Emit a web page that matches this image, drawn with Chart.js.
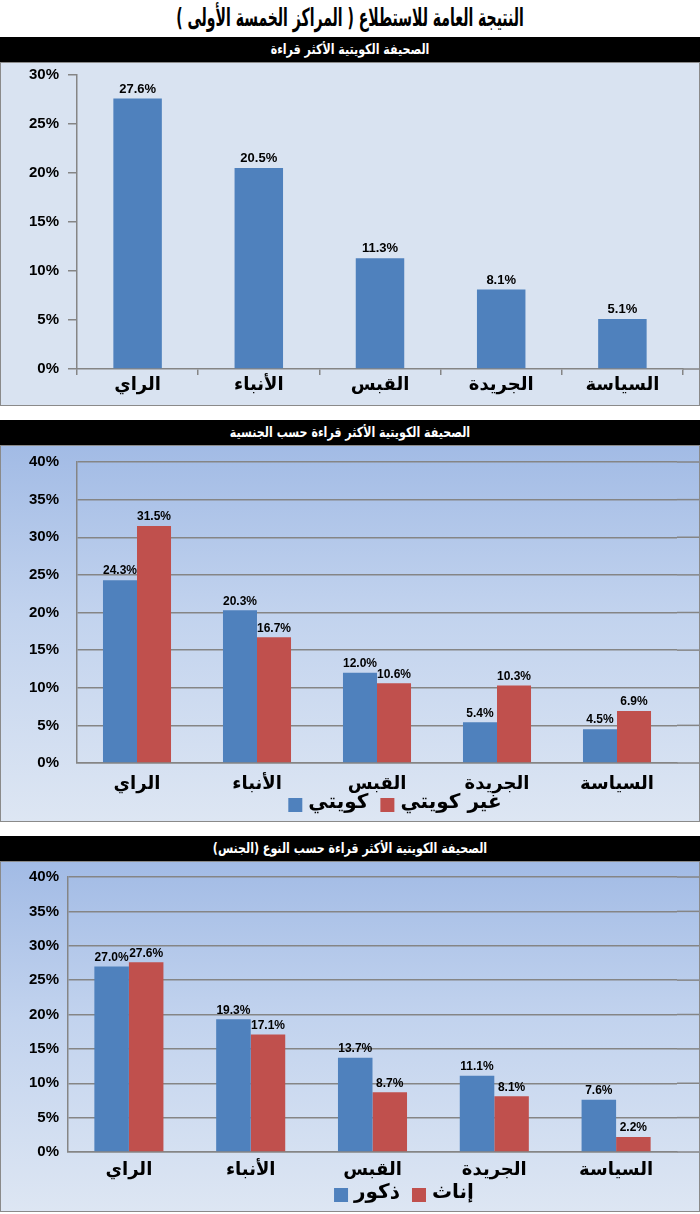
<!DOCTYPE html>
<html>
<head>
<meta charset="utf-8">
<script src="https://cdn.jsdelivr.net/npm/chart.js@4.4.0/dist/chart.umd.min.js"></script>
<style>
  body { margin: 0; width: 700px; height: 1214px; background: #fff; position: relative; overflow: hidden; font-family: "DejaVu Sans", sans-serif; }
  .title { position: absolute; left: 0; top: 0; width: 700px; height: 36px; line-height: 36px; text-align: center; font-weight: bold; font-size: 25px; direction: rtl; color: #000; transform: scaleX(0.56); }
  .head { position: absolute; left: 0; width: 700px; height: 25px; background: #000; }
  .head span { display: block; height: 25px; line-height: 25px; color: #fff; text-align: center; font-weight: bold; font-size: 14px; direction: rtl; transform: scaleX(0.79); }
  .panel { position: absolute; left: 0; width: 700px; box-sizing: border-box; border: 1px solid #8a8a8a; overflow: hidden; }
  .panel canvas { position: absolute; left: 0; top: 0; }
  #p1 { top: 62px; height: 344px; background: #d9e3f1; }
  #p2 { top: 445px; height: 377px; background: linear-gradient(to bottom, #a2bbe5 0%, #c2d3ee 45%, #dde6f3 100%); }
  #p3 { top: 861px; height: 351px; background: linear-gradient(to bottom, #a2bbe5 0%, #c2d3ee 45%, #dde6f3 100%); }
</style>
</head>
<body>
<div class="title">النتيجة العامة للاستطلاع ( المراكز الخمسة الأولى )</div>

<div class="head" style="top:37px"><span>الصحيفة الكويتية الأكثر قراءة</span></div>
<div class="panel" id="p1"><canvas id="chart_all" width="698" height="342"></canvas></div>

<div class="head" style="top:420px"><span>الصحيفة الكويتية الأكثر قراءة حسب الجنسية</span></div>
<div class="panel" id="p2"><canvas id="chart_nat" width="698" height="375"></canvas></div>

<div class="head" style="top:836px"><span>الصحيفة الكويتية الأكثر قراءة حسب النوع (الجنس)</span></div>
<div class="panel" id="p3"><canvas id="chart_sex" width="698" height="349"></canvas></div>

<script>
// categories (left to right as printed)
const papers = ["الراي", "الأنباء", "القبس", "الجريدة", "السياسة"];

// chart 1 : overall
const overall = [27.6, 20.5, 11.3, 8.1, 5.1];

// chart 2 : by nationality
const natLabels = ["كويتي", "غير كويتي"];
const kuwaiti = [24.3, 20.3, 12.0, 5.4, 4.5];
const nonKuwaiti = [31.5, 16.7, 10.6, 10.3, 6.9];

// chart 3 : by sex
const sexLabels = ["ذكور", "إناث"];
const males = [27.0, 19.3, 13.7, 11.1, 7.6];
const females = [27.6, 17.1, 8.7, 8.1, 2.2];

const blue = "#4f81bd";
const red = "#c0504d";
const lineGrey = "#858585";

// value labels above each bar
const barLabels = {
  id: "barLabels",
  afterDatasetsDraw(chart, args, opts) {
    const ctx = chart.ctx;
    ctx.save();
    ctx.font = "bold " + opts.size + "px 'Liberation Sans', Arial, sans-serif";
    ctx.fillStyle = "#000";
    ctx.textAlign = "center";
    ctx.textBaseline = "bottom";
    chart.data.datasets.forEach((ds, i) => {
      chart.getDatasetMeta(i).data.forEach((bar, j) => {
        ctx.fillText(ds.data[j].toFixed(1) + "%", bar.x, bar.y - 3);
      });
    });
    ctx.restore();
  }
};

// grid lines run on to the right edge of the panel
const extendLines = {
  id: "extendLines",
  beforeDatasetsDraw(chart, args, opts) {
    const ctx = chart.ctx;
    const area = chart.chartArea;
    const y = chart.scales.y;
    ctx.save();
    ctx.strokeStyle = lineGrey;
    ctx.lineWidth = 1.5;
    y.ticks.forEach((t) => {
      if (!opts.all && t.value !== 0) return;
      const py = y.getPixelForValue(t.value);
      ctx.beginPath();
      ctx.moveTo(area.right, py);
      ctx.lineTo(chart.width, py);
      ctx.stroke();
    });
    ctx.restore();
  }
};

// legend row under the category names (box, name, box, name)
const barLegend = {
  id: "barLegend",
  afterDraw(chart, args, opts) {
    if (!opts.display) return;
    const ctx = chart.ctx;
    const box = 14, gap = 6, space = 12;
    ctx.save();
    ctx.font = "bold 20px 'DejaVu Sans', sans-serif";
    const items = chart.data.datasets.map((ds) => ({
      text: ds.label,
      color: ds.backgroundColor,
      w: ctx.measureText(ds.label).width
    }));
    const total = items.reduce((s, it) => s + box + gap + it.w, 0) + space * (items.length - 1);
    let x = opts.cx - total / 2;
    const y = chart.chartArea.bottom + opts.dy;
    ctx.textBaseline = "middle";
    ctx.textAlign = "left";
    items.forEach((it) => {
      ctx.fillStyle = it.color;
      ctx.fillRect(x, y - box / 2 + 2, box, box);
      x += box + gap;
      ctx.fillStyle = "#000";
      ctx.fillText(it.text, x, y);
      x += it.w + space;
    });
    ctx.restore();
  }
};

function CreateBarChart(canvas_id, datasets, cfg) {
  const ctx = document.getElementById(canvas_id).getContext("2d");
  return new Chart(ctx, {
    type: "bar",
    data: { labels: papers, datasets: datasets },
    plugins: [barLabels, extendLines, barLegend],
    options: {
      responsive: false,
      animation: false,
      devicePixelRatio: 1,
      categoryPercentage: cfg.catPct,
      barPercentage: cfg.barPct,
      layout: { padding: cfg.padding },
      plugins: {
        legend: { display: false },
        tooltip: { enabled: false },
        barLabels: { size: cfg.labelSize },
        extendLines: { all: cfg.grid },
        barLegend: { display: cfg.legend, cx: cfg.legendX, dy: cfg.legendDy }
      },
      scales: {
        x: {
          afterFit: (s) => { s.height = cfg.xHeight; },
          grid: {
            display: !cfg.grid,
            drawOnChartArea: false,
            drawTicks: true,
            tickLength: 6,
            color: lineGrey,
            lineWidth: 1.5
          },
          border: { display: true, color: lineGrey, width: 1.5 },
          ticks: {
            color: "#000",
            padding: cfg.xPad,
            font: { family: "'DejaVu Sans', sans-serif", size: 18, weight: "bold" }
          }
        },
        y: {
          min: 0,
          max: cfg.max,
          afterFit: (s) => { s.width = cfg.left; },
          grid: {
            drawOnChartArea: cfg.grid,
            drawTicks: true,
            tickLength: cfg.grid ? cfg.yGap : 9,
            tickColor: cfg.grid ? "rgba(0,0,0,0)" : lineGrey,
            color: lineGrey,
            lineWidth: 1.5
          },
          border: { display: true, color: lineGrey, width: 1.5 },
          ticks: {
            stepSize: 5,
            color: "#000",
            padding: cfg.grid ? 0 : 9,
            font: { family: "'Liberation Sans', Arial, sans-serif", size: 15, weight: "bold", lineHeight: 0.2 },
            callback: (v) => v + "%"
          }
        }
      }
    }
  });
}

CreateBarChart("chart_all", [
  { label: "الصحيفة الكويتية الأكثر قراءة", data: overall, backgroundColor: blue }
], {
  max: 30, grid: false, legend: false, left: 76,
  padding: { top: 12, right: 16, bottom: 0, left: 0 },
  xHeight: 36, xPad: 0, catPct: 1, barPct: 0.4, labelSize: 13
});

CreateBarChart("chart_nat", [
  { label: natLabels[0], data: kuwaiti, backgroundColor: blue },
  { label: natLabels[1], data: nonKuwaiti, backgroundColor: red }
], {
  max: 40, grid: true, legend: true, left: 76, yGap: 18,
  padding: { top: 16, right: 22, bottom: 0, left: 0 },
  xHeight: 58, xPad: 5, catPct: 0.567, barPct: 1, labelSize: 12,
  legendX: 394, legendDy: 40
});

CreateBarChart("chart_sex", [
  { label: sexLabels[0], data: males, backgroundColor: blue },
  { label: sexLabels[1], data: females, backgroundColor: red }
], {
  max: 40, grid: true, legend: true, left: 67, yGap: 9,
  padding: { top: 15, right: 22, bottom: 0, left: 0 },
  xHeight: 59, xPad: 2, catPct: 0.567, barPct: 1, labelSize: 12,
  legendX: 403, legendDy: 41
});
</script>
</body>
</html>
